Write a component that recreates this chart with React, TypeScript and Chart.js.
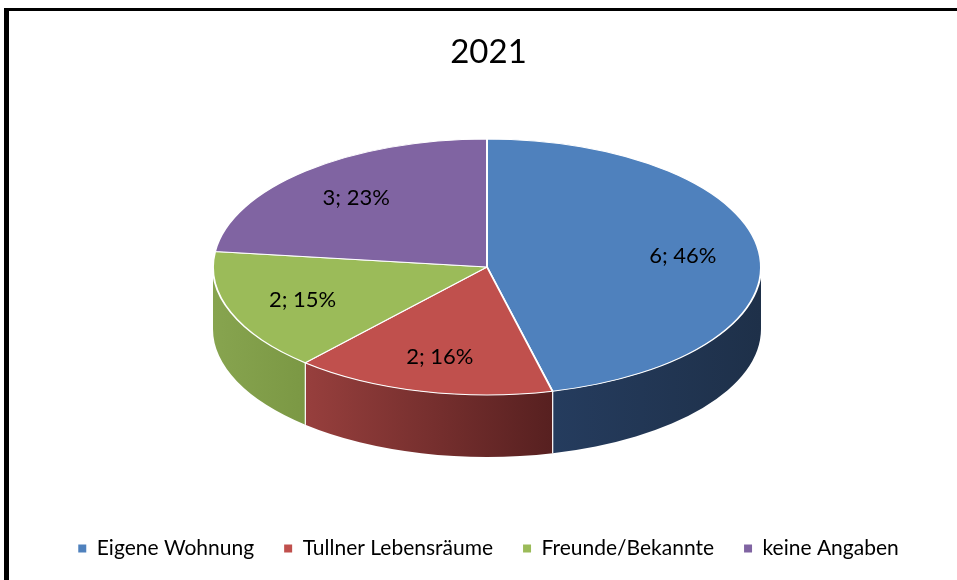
import { useEffect, useRef } from 'react';
import { Chart, registerables } from 'chart.js';

Chart.register(...registerables);

const TITLE = '2021';
const CATEGORIES = ['Eigene Wohnung', 'Tullner Lebensräume', 'Freunde/Bekannte', 'keine Angaben'];
const COUNTS = [6, 2, 2, 3];
const PERCENT_LABELS = ['46%', '16%', '15%', '23%'];
const TOP_COLORS = ['#4F81BD', '#C0504D', '#9BBB59', '#8064A2'];
const SIDE_LEFT = ['#253C5E', '#973F3D', '#87A44F', '#6A5388'];
const SIDE_RIGHT = ['#1E3049', '#572020', '#7B9844', '#4F3D66'];

// 3D geometry (screen space)
const CX = 487;
const CY = 267;
const RX = 274;
const RY = 128;
const DEPTH = 62;
const LABEL_FRACTION = 0.72;
const FONT = 'Lato, "Open Sans", sans-serif';

const pie3dPlugin = {
  id: 'pie3d',
  beforeDatasetsDraw(chart: any) {
    const ctx = chart.ctx as CanvasRenderingContext2D;
    const meta = chart.getDatasetMeta(0);
    meta.data.forEach((arc: any, i: number) => {
      const s = Math.max(arc.startAngle, 0);
      const e = Math.min(arc.endAngle, Math.PI);
      if (e <= s) return;
      const x1 = CX + RX * Math.cos(e);
      const x2 = CX + RX * Math.cos(s);
      const grad = ctx.createLinearGradient(Math.min(x1, x2), 0, Math.max(x1, x2), 0);
      grad.addColorStop(0, SIDE_LEFT[i]);
      grad.addColorStop(1, SIDE_RIGHT[i]);
      ctx.save();
      ctx.beginPath();
      ctx.ellipse(CX, CY, RX, RY, 0, s, e, false);
      ctx.ellipse(CX, CY + DEPTH, RX, RY, 0, e, s, true);
      ctx.closePath();
      ctx.fillStyle = grad;
      ctx.fill();
      ctx.strokeStyle = 'rgba(255,255,255,0.9)';
      ctx.lineWidth = 1.2;
      [s, e].forEach((a) => {
        if (a > 0.001 && a < Math.PI - 0.001) {
          const x = CX + RX * Math.cos(a);
          const y = CY + RY * Math.sin(a);
          ctx.beginPath();
          ctx.moveTo(x, y);
          ctx.lineTo(x, y + DEPTH);
          ctx.stroke();
        }
      });
      ctx.restore();
    });
  },
  beforeDatasetDraw(chart: any) {
    const ctx = chart.ctx as CanvasRenderingContext2D;
    const arc = chart.getDatasetMeta(0).data[0] as any;
    ctx.save();
    ctx.translate(CX, CY);
    ctx.scale(1, RY / RX);
    ctx.translate(-arc.x, -arc.y);
  },
  afterDatasetDraw(chart: any) {
    chart.ctx.restore();
  },
  afterDatasetsDraw(chart: any) {
    const ctx = chart.ctx as CanvasRenderingContext2D;
    const meta = chart.getDatasetMeta(0);
    ctx.save();
    ctx.font = `22px ${FONT}`;
    ctx.fillStyle = '#000000';
    ctx.textAlign = 'center';
    ctx.textBaseline = 'middle';
    meta.data.forEach((arc: any, i: number) => {
      const mid = (arc.startAngle + arc.endAngle) / 2;
      const r = arc.outerRadius * LABEL_FRACTION;
      const x = CX + r * Math.cos(mid);
      const y = CY + r * Math.sin(mid) * (RY / RX);
      ctx.fillText(`${COUNTS[i]}; ${PERCENT_LABELS[i]}`, x, y);
    });
    ctx.restore();
  },
};

export default function App() {
  const canvasRef = useRef<HTMLCanvasElement | null>(null);

  useEffect(() => {
    const canvas = canvasRef.current;
    if (!canvas) return;
    const chart = new Chart(canvas, {
      type: 'pie',
      data: {
        labels: CATEGORIES,
        datasets: [
          {
            data: COUNTS,
            backgroundColor: TOP_COLORS,
            borderColor: '#FFFFFF',
            borderWidth: 2,
            radius: RX,
            clip: false,
          } as any,
        ],
      },
      options: {
        responsive: false,
        animation: false,
        events: [],
        layout: { padding: { left: 20, right: 0, top: 0, bottom: 0 } },
        plugins: {
          tooltip: { enabled: false },
          title: {
            display: true,
            text: TITLE,
            color: '#000000',
            font: { family: FONT, size: 33, weight: 'normal' },
            padding: { top: 33, bottom: 0 },
          },
          legend: {
            display: true,
            position: 'bottom',
            labels: {
              boxWidth: 8,
              boxHeight: 8,
              padding: 30,
              color: '#000000',
              font: { family: FONT, size: 21 },
              generateLabels: () =>
                CATEGORIES.map((text, i) => ({
                  text,
                  fillStyle: TOP_COLORS[i],
                  strokeStyle: TOP_COLORS[i],
                  lineWidth: 0,
                  hidden: false,
                  index: i,
                  fontColor: '#000000',
                })),
            },
          },
        },
      },
      plugins: [pie3dPlugin],
    });
    return () => chart.destroy();
  }, []);

  return (
    <div
      style={{
        position: 'fixed',
        left: 0,
        top: 0,
        width: 957,
        height: 580,
        overflow: 'hidden',
        background: '#FFFFFF',
      }}
    >
      <canvas ref={canvasRef} width={957} height={569} style={{ position: 'absolute', left: 0, top: 0 }} />
      <div
        style={{
          position: 'absolute',
          left: 4,
          top: 8,
          width: 1200,
          height: 800,
          borderTop: '3px solid #000000',
          borderLeft: '5px solid #000000',
          pointerEvents: 'none',
        }}
      />
    </div>
  );
}
